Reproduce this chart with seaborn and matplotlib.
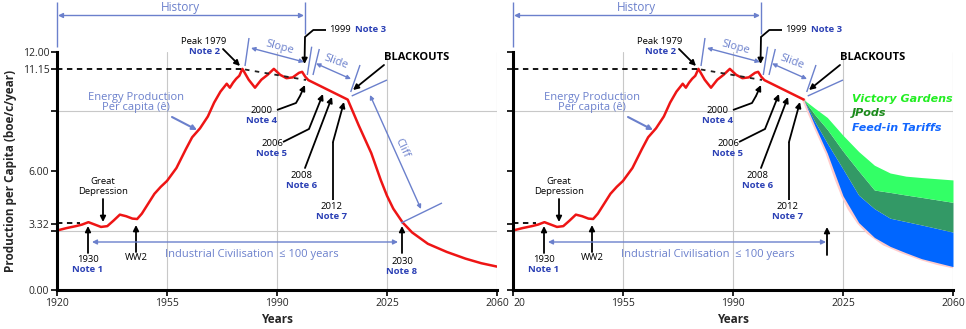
import numpy as np
import pandas as pd
import matplotlib
matplotlib.use("Agg")
import matplotlib.pyplot as plt
import seaborn as sns

sns.set_theme(style="white")
plt.rcParams['font.family'] = ['Open Sans', 'DejaVu Sans']

# ---------------- data ----------------
hist_years = [1920, 1923, 1926, 1928, 1930, 1932, 1934, 1936, 1938, 1940, 1942, 1944,
              1945.5, 1947, 1949, 1951, 1953, 1955, 1958, 1961, 1963, 1965.5, 1968,
              1970, 1972, 1973, 1974, 1975, 1976, 1977, 1978, 1979, 1981, 1983, 1985,
              1987, 1989, 1991, 1993, 1995, 1997, 1998, 1999, 2000, 2012.5]
hist_values = [3.0, 3.12, 3.22, 3.3, 3.42, 3.3, 3.18, 3.22, 3.5, 3.8, 3.72, 3.6,
               3.58, 3.85, 4.35, 4.85, 5.2, 5.5, 6.15, 7.1, 7.7, 8.15, 8.75,
               9.45, 10.0, 10.2, 10.4, 10.2, 10.45, 10.65, 10.8, 11.15, 10.6, 10.2, 10.6,
               10.85, 11.15, 10.85, 10.68, 10.72, 10.95, 11.0, 10.75, 10.58, 9.6]
cliff_years = [2012.5, 2016, 2020, 2023, 2025, 2027, 2030, 2033, 2038, 2044, 2050, 2055, 2060]
cliff_values = [9.6, 8.3, 6.9, 5.55, 4.75, 4.1, 3.4, 2.9, 2.33, 1.92, 1.58, 1.35, 1.18]

fan_years = [2012.5, 2016, 2020, 2025, 2030, 2035, 2040, 2045, 2050, 2060]
fan_base = [9.6, 8.3, 6.9, 4.75, 3.4, 2.65, 2.2, 1.88, 1.58, 1.18]
fan_tariffs = [9.6, 8.5, 7.4, 6.1, 4.78, 4.1, 3.62, 3.45, 3.28, 2.92]
fan_jpods = [9.6, 8.85, 8.1, 7.0, 6.0, 5.04, 4.92, 4.79, 4.67, 4.42]
fan_gardens = [9.6, 9.17, 8.7, 7.8, 6.98, 6.29, 5.9, 5.74, 5.67, 5.55]

x_ticks = [1920, 1955, 1990, 2025, 2060]
x_labels_left = ['1920', '1955', '1990', '2025', '2060']
x_labels_right = ['20', '1955', '1990', '2025', '2060']
y_major = [0, 3.32, 6, 11.15, 12]
y_major_labels = ['0.00', '3.32', '6.00', '11.15', '12.00']
y_minor = [0, 3, 6, 9, 12]

RED = '#ee1515'
BLUE = '#6b80cc'
NOTE = '#2b40b5'
GRID = '#c8c8c8'

# pixel -> data helper for annotation layout (left panel geometry)
def P(px, py):
    return (1920 + (px - 57) / 3.1429, (290 - py) / 19.833)

fig = plt.figure(figsize=(9.66, 3.29), dpi=100)
axL = fig.add_axes([57 / 966, 39 / 329, 440 / 966, 238 / 329])
axR = fig.add_axes([513 / 966, 39 / 329, 440 / 966, 238 / 329])


def style_axes(ax, xlabels, ylabels):
    ax.set_xlim(1920, 2060)
    ax.set_ylim(0, 12)
    ax.set_xticks(x_ticks)
    ax.set_xticklabels(xlabels, fontsize=7.5)
    ax.set_yticks(y_major)
    ax.set_yticklabels(ylabels, fontsize=7.5)
    ax.set_yticks(y_minor, minor=True)
    ax.grid(False)
    ax.xaxis.grid(True, which='major', color=GRID, lw=0.8)
    ax.yaxis.grid(True, which='minor', color=GRID, lw=0.8)
    ax.set_axisbelow(True)
    ax.tick_params(axis='both', which='both', direction='out', length=4, width=1.2,
                   color='black', pad=1.5, left=True, bottom=True)
    for s in ['top', 'right']:
        ax.spines[s].set_visible(False)
    for s in ['left', 'bottom']:
        ax.spines[s].set_color('black')
        ax.spines[s].set_linewidth(2.2)
    ax.patch.set_alpha(0)


def line(ax, pts, color=BLUE, lw=1.0, ls='-'):
    d = [P(*p) for p in pts]
    ax.plot([a for a, b in d], [b for a, b in d], color=color, lw=lw, ls=ls,
            clip_on=False, solid_capstyle='butt')


def arrow(ax, pts, color='black', lw=1.3, both=False, ms=8):
    d = [P(*p) for p in pts]
    if len(d) > 2:
        ax.plot([a for a, b in d[:-1]], [b for a, b in d[:-1]], color=color, lw=lw,
                clip_on=False, solid_capstyle='butt')
    style = '<|-|>' if both else '-|>'
    ax.annotate('', xy=d[-1], xytext=d[-2], annotation_clip=False,
                arrowprops=dict(arrowstyle=style, color=color, lw=lw, shrinkA=0,
                                shrinkB=0, mutation_scale=ms))


def text(ax, px, py, s, color='black', size=6.8, weight='normal', style='normal',
         rot=0, ha='center', family=None):
    x, y = P(px, py)
    kw = {}
    if family:
        kw['family'] = family
    ax.text(x, y, s, color=color, fontsize=size, fontweight=weight, fontstyle=style,
            rotation=rot, ha=ha, va='center', clip_on=False, rotation_mode='anchor', **kw)


def note(ax, px, py, year, n):
    text(ax, px, py, year)
    text(ax, px, py + 9.5, 'Note %d' % n, color=NOTE, weight='bold')


def common(ax):
    # reference dashed lines
    line(ax, [(57, 223.5), (80, 223.5)], color='black', lw=1.3, ls=(0, (3, 2.5)))
    line(ax, [(57, 69), (243, 69)], color='black', lw=1.3, ls=(0, (3, 2.5)))
    line(ax, [(245, 69.5), (306, 80)], color='#222222', lw=1.3, ls=(0, (2.5, 3)))
    # History
    text(ax, 180, 7.5, 'History', color=BLUE, size=8.5)
    line(ax, [(57, 2), (57, 47)])
    line(ax, [(305, 2), (305, 34)])
    arrow(ax, [(58, 15.5), (304, 15.5)], color=BLUE, lw=1.0, both=True, ms=7)
    # Peak 1979
    text(ax, 204, 42, 'Peak 1979')
    text(ax, 205, 52, 'Note 2', color=NOTE, weight='bold')
    arrow(ax, [(223, 49), (240, 66)])
    # Slope
    line(ax, [(249, 38), (245, 66)])
    line(ax, [(311.7, 46.7), (307.3, 75)])
    line(ax, [(319.3, 49), (313, 75)])
    arrow(ax, [(251, 48), (304, 62)], color=BLUE, lw=1.0, both=True, ms=6)
    text(ax, 280, 47, 'Slope', color=BLUE, size=8, rot=-15)
    # Slide
    arrow(ax, [(316, 63.5), (351, 79)], color=BLUE, lw=1.0, both=True, ms=6)
    line(ax, [(360, 65), (350.7, 92)])
    text(ax, 336, 62, 'Slide', color=BLUE, size=8, rot=-20)
    # 1999 note 3
    arrow(ax, [(326, 30), (313.3, 30), (305, 37), (304.5, 64)])
    text(ax, 329, 30, '1999', ha='left')
    text(ax, 355, 30, 'Note 3', color=NOTE, weight='bold', ha='left')
    # BLACKOUTS
    text(ax, 417, 58, 'BLACKOUTS', size=8, weight='bold')
    arrow(ax, [(384, 65), (353, 90)])
    line(ax, [(351.7, 96), (387, 80)])
    # Energy production label
    text(ax, 136, 98, 'Energy Production', color=BLUE, size=8)
    text(ax, 136, 108, 'Per capita (ê)', color=BLUE, size=8)
    arrow(ax, [(172, 117), (197, 130)], color=BLUE, lw=1.5, ms=7)
    # Notes 4-7
    note(ax, 262, 111, '2000', 4)
    arrow(ax, [(277, 110), (296, 103), (300, 96), (305, 85)])
    note(ax, 272, 144, '2006', 5)
    arrow(ax, [(283, 142), (309, 129), (323, 94)])
    note(ax, 302, 176, '2008', 6)
    arrow(ax, [(305, 168), (332, 97)])
    note(ax, 332, 207, '2012', 7)
    arrow(ax, [(333, 200), (333, 142), (344, 102)])
    # Early notes
    text(ax, 103, 182, 'Great')
    text(ax, 103, 192, 'Depression')
    arrow(ax, [(103, 199), (103, 222)])
    note(ax, 88, 260, '1930', 1)
    arrow(ax, [(88, 253), (88, 226)])
    text(ax, 136, 258, 'WW2')
    arrow(ax, [(136, 252), (136, 225)])
    # Industrial civilisation
    text(ax, 252, 255, 'Industrial Civilisation  \u2264 100 years', color=BLUE, size=8)


# ---------------- left panel ----------------
style_axes(axL, x_labels_left, y_major_labels)
left_df = pd.DataFrame({'year': hist_years + cliff_years[1:],
                        'value': hist_values + cliff_values[1:]})
sns.lineplot(data=left_df, x='year', y='value', ax=axL, color=RED, lw=1.8, sort=False)
axL.set_xlabel('Years', fontsize=8.5, fontweight='bold', labelpad=3)
axL.set_ylabel('Production per Capita (boe/c/year)', fontsize=8.5, fontweight='bold',
               labelpad=4)
common(axL)
# cliff
arrow(axL, [(370, 95), (421, 209)], color=BLUE, lw=1.0, both=True, ms=6)
line(axL, [(401, 223), (442, 203)])
text(axL, 402, 148, 'Cliff', color=BLUE, size=8, rot=-65)
note(axL, 402, 262, '2030', 8)
arrow(axL, [(402, 253), (402, 226)])
arrow(axL, [(92, 242), (398, 242)], color=BLUE, lw=1.0, both=True, ms=7)

# ---------------- right panel ----------------
style_axes(axR, x_labels_right, ['' for _ in y_major_labels])
axR.get_xticklabels()[0].set_horizontalalignment('left')
sns.lineplot(x=cliff_years, y=cliff_values, ax=axR, color='#ffcccc', lw=2.5, sort=False)
axR.fill_between(fan_years, fan_base, fan_tariffs, color='#0066ff', lw=0, zorder=3)
axR.fill_between(fan_years, fan_tariffs, fan_jpods, color='#339966', lw=0, zorder=3)
axR.fill_between(fan_years, fan_jpods, fan_gardens, color='#33ff66', lw=0, zorder=3)
sns.lineplot(x=hist_years, y=hist_values, ax=axR, color=RED, lw=1.8, sort=False)
axR.set_xlabel('Years', fontsize=8.5, fontweight='bold', labelpad=3)
axR.set_ylabel('')
common(axR)
arrow(axR, [(92, 242), (370, 242)], color=BLUE, lw=1.0, both=True, ms=7)
arrow(axR, [(371, 255), (371, 227)])
text(axR, 396, 99, 'Victory Gardens', color='#22ee22', size=8, weight='bold',
     style='italic', ha='left', family=['DejaVu Sans'])
text(axR, 396, 113, 'JPods', color='#1a8a1a', size=8, weight='bold',
     style='italic', ha='left', family=['DejaVu Sans'])
text(axR, 396, 128, 'Feed-in Tariffs', color='#1166ff', size=8, weight='bold',
     style='italic', ha='left', family=['DejaVu Sans'])

fig.savefig('out.png', dpi=100)
